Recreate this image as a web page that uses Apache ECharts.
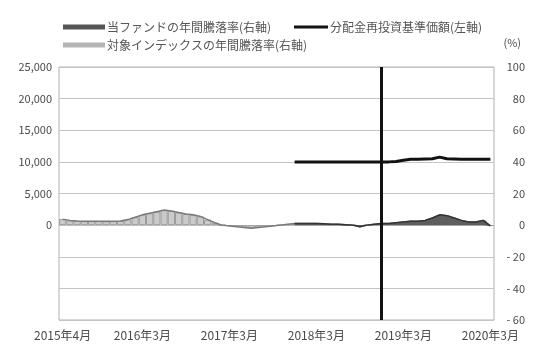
<!DOCTYPE html>
<html>
<head>
<meta charset="utf-8">
<script src="https://cdn.jsdelivr.net/npm/echarts@6/dist/echarts.min.js"></script>
<style>
  html, body { margin: 0; padding: 0; background: #fff; }
  #chart { width: 533px; height: 345px; }
</style>
</head>
<body>
<div id="chart"></div>
<script>
// Monthly categories, 2015年4月 .. 2020年3月
const months = [];
for (let y = 2015, m = 4; months.length < 60; ) {
  months.push(y + '年' + m + '月');
  m++; if (m > 12) { m = 1; y++; }
}

// Months that carry an axis label
const labelMonths = ['2015年4月', '2016年3月', '2017年3月', '2018年3月', '2019年3月', '2020年3月'];

// Index one-year return (%), right axis
const indexReturn = [
  3.8, 3.0, 2.6, 2.5, 2.5, 2.5, 2.4, 2.5, 2.6, 3.5,
  5.0, 6.5, 7.5, 8.5, 9.5, 9.0, 8.0, 7.0, 6.5, 5.5,
  3.5, 1.5, 0.0, -0.5, -1.0, -1.5, -2.0, -1.5, -1.0, -0.5,
  0.0, 0.5, 1.0, 1.0, 1.0, 1.0, 0.8, 0.6, 0.5, 0.3,
  0.0, -1.0, 0.0, 0.5, 1.0, 1.0, 1.5, 2.0, 2.5, 2.5,
  3.0, 4.5, 6.5, 6.0, 4.5, 3.0, 2.0, 2.0, 3.0, -0.5
];

// Fund one-year return (%), right axis
const fundReturn = [
  null, null, null, null, null, null, null, null, null, null,
  null, null, null, null, null, null, null, null, null, null,
  null, null, null, null, null, null, null, null, null, null,
  null, null, 1.0, 1.0, 1.0, 1.0, 0.8, 0.6, 0.5, 0.3,
  0.0, -1.0, 0.0, 0.5, 1.0, 1.0, 1.5, 2.0, 2.5, 2.5,
  3.0, 4.5, 6.5, 6.0, 4.5, 3.0, 2.0, 2.0, 3.0, -0.5
];

// Dividend-reinvested NAV (円), left axis
const fundNav = [
  null, null, null, null, null, null, null, null, null, null,
  null, null, null, null, null, null, null, null, null, null,
  null, null, null, null, null, null, null, null, null, null,
  null, null, 10000, 10000, 10000, 10000, 10000, 10000, 10000, 10000,
  10000, 10000, 10000, 10000, 10000, 10000, 10050, 10250, 10400, 10400,
  10450, 10500, 10750, 10500, 10450, 10400, 10400, 10400, 10400, 10400
];

// Category index of the vertical marker line
const markerIndex = 44;

const FONT = '"Noto Sans CJK JP", "Noto Sans", sans-serif';
const TXT = '#4a4a4a';
const legendText = { fontSize: 12, color: '#555', fontFamily: FONT, padding: [0, 0, 0, -3] };

const chart = echarts.init(document.getElementById('chart'));
chart.setOption({
  animation: false,
  textStyle: { fontFamily: FONT },
  legend: [
    {
      left: 58, top: 16, itemWidth: 42, itemHeight: 5, textStyle: legendText,
      data: [{ name: '当ファンドの年間騰落率(右軸)', icon: 'rect', itemStyle: { color: '#555', borderWidth: 0 } }]
    },
    {
      left: 289, top: 16, itemWidth: 34, itemHeight: 3, textStyle: legendText,
      data: [{ name: '分配金再投資基準価額(左軸)', icon: 'rect', itemStyle: { color: '#111', borderWidth: 0 } }]
    },
    {
      left: 58, top: 34, itemWidth: 42, itemHeight: 5, textStyle: legendText,
      data: [{ name: '対象インデックスの年間騰落率(右軸)', icon: 'rect', itemStyle: { color: '#b5b5b5', borderWidth: 0, decal: 'none' } }]
    }
  ],
  grid: { left: 59, right: 39, top: 67, bottom: 25, show: true, borderColor: '#b0b0b0', borderWidth: 1 },
  xAxis: {
    type: 'category',
    data: months,
    boundaryGap: true,
    axisLine: { show: false },
    axisTick: { show: false },
    axisLabel: {
      interval: (i, v) => labelMonths.includes(v),
      fontSize: 12, color: TXT, margin: 9, fontFamily: FONT
    },
    splitLine: { show: false }
  },
  yAxis: [
    {
      type: 'value', position: 'left',
      min: -15000, max: 25000, interval: 5000,
      axisLine: { show: false }, axisTick: { show: false },
      axisLabel: {
        fontSize: 11, color: TXT, margin: 7, fontFamily: FONT,
        formatter: v => v < 0 ? '' : v.toLocaleString('en-US')
      },
      splitLine: { lineStyle: { color: '#c4c4c4', width: 1 } }
    },
    {
      type: 'value', position: 'right',
      min: -60, max: 100, interval: 20,
      name: '(%)', nameLocation: 'end', nameGap: 19,
      nameTextStyle: { fontSize: 11, color: TXT, align: 'right', padding: [0, -27, 0, 0] },
      axisLine: { show: false }, axisTick: { show: false },
      axisLabel: {
        fontSize: 11, color: TXT, margin: 31, align: 'right', fontFamily: FONT,
        formatter: v => v < 0 ? '- ' + (-v) : String(v)
      },
      splitLine: { show: false }
    }
  ],
  series: [
    {
      name: '対象インデックスの年間騰落率(右軸)',
      type: 'bar', yAxisIndex: 1, data: indexReturn,
      barCategoryGap: '0%', z: 2,
      itemStyle: { color: '#cacaca', borderColor: '#9c9c9c', borderWidth: 1 }
    },
    {
      // outline of the index bars
      type: 'line', yAxisIndex: 1, data: indexReturn,
      symbol: 'none', z: 3, silent: true,
      lineStyle: { color: '#7a7a7a', width: 1.5 }
    },
    {
      name: '当ファンドの年間騰落率(右軸)',
      type: 'line', yAxisIndex: 1, data: fundReturn,
      symbol: 'none', z: 4,
      lineStyle: { color: '#333', width: 1.5 },
      itemStyle: { color: '#555' },
      areaStyle: { color: '#5e5e5e', opacity: 1 }
    },
    {
      name: '分配金再投資基準価額(左軸)',
      type: 'line', yAxisIndex: 0, data: fundNav,
      symbol: 'none', z: 5,
      lineStyle: { color: '#111', width: 3 },
      itemStyle: { color: '#111' },
      markLine: {
        silent: true, symbol: 'none', label: { show: false },
        lineStyle: { color: '#111', width: 3, type: 'solid' },
        data: [{ xAxis: markerIndex }]
      }
    }
  ]
});
</script>
</body>
</html>
